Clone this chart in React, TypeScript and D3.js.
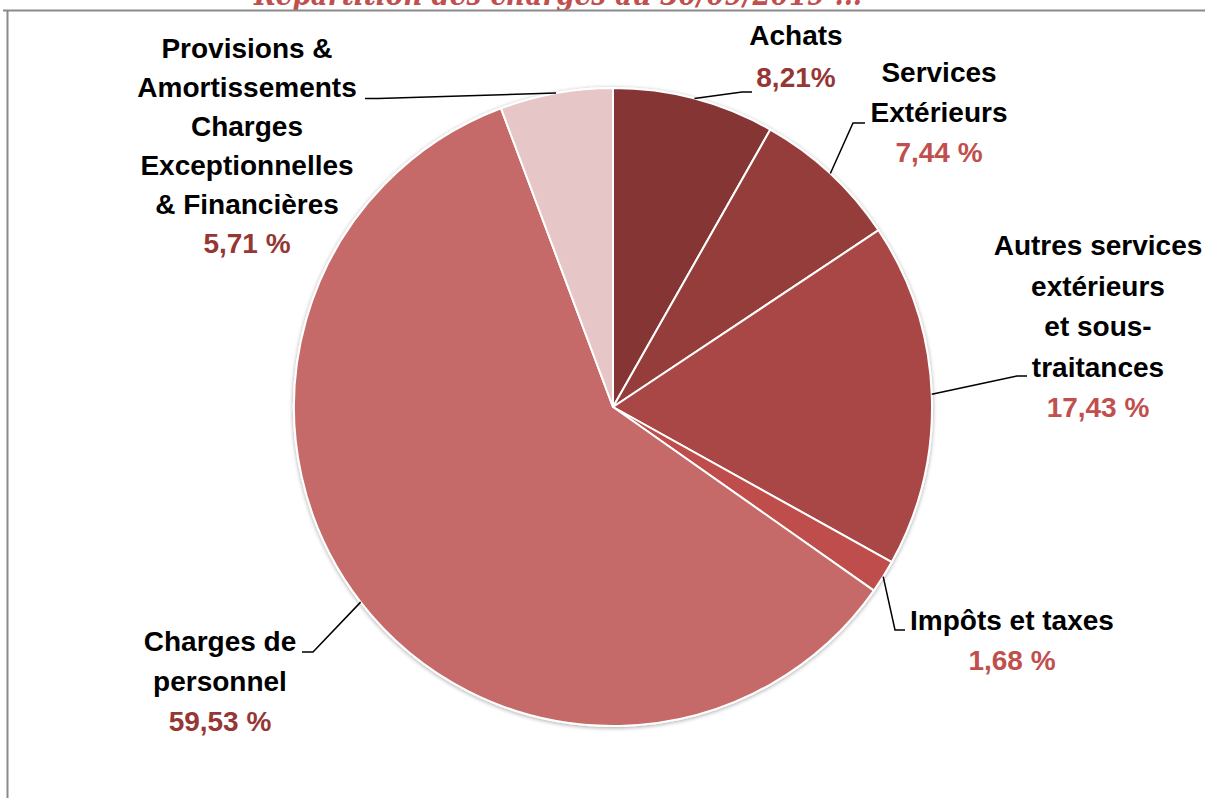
import React from "react";
import * as d3 from "d3";

const categories = [
  "Achats",
  "Services Extérieurs",
  "Autres services extérieurs et sous-traitances",
  "Impôts et taxes",
  "Charges de personnel",
  "Provisions & Amortissements Charges Exceptionnelles & Financières",
];
const values = [8.21, 7.44, 17.43, 1.68, 59.53, 5.71];
const valueLabels = ["8,21%", "7,44 %", "17,43 %", "1,68 %", "59,53 %", "5,71 %"];
const labelLines = [
  ["Achats"],
  ["Services", "Extérieurs"],
  ["Autres services", "extérieurs", "et sous-", "traitances"],
  ["Impôts et taxes"],
  ["Charges de", "personnel"],
  ["Provisions &", "Amortissements", "Charges", "Exceptionnelles", "& Financières"],
];
const title = "Répartition des charges au 30/09/2019 ...";

const sliceColors = ["#863534", "#953d3b", "#a84644", "#bf4e4b", "#c56a69", "#e6c6c7"];
const pctColors = ["#953735", "#c0504d", "#c0504d", "#c0504d", "#953735", "#953735"];

// layout: label center x, first baseline, line height, elbow point, end x
const layout = [
  { cx: 796, y0: 45, lh: 42, ex: 742, ey: 92, endX: 752 },
  { cx: 939, y0: 82, lh: 40, ex: 853, ey: 123, endX: 865 },
  { cx: 1098, y0: 255, lh: 40.5, ex: 1017, ey: 376, endX: 1027 },
  { cx: 1012, y0: 630, lh: 40, ex: 895, ey: 630, endX: 905 },
  { cx: 220, y0: 651, lh: 40, ex: 313, ey: 652, endX: 302 },
  { cx: 247, y0: 58, lh: 39, ex: 378, ey: 98.6, endX: 365 },
];

const W = 1205;
const H = 798;
const CX = 613;
const CY = 407;
const R = 319;

export default function App() {
  const pie = d3.pie<number>().sort(null).value((d) => d);
  const arcs = pie(values);
  const arcGen = d3.arc<d3.PieArcDatum<number>>().innerRadius(0).outerRadius(R);
  const font = "'Liberation Sans', Arial, sans-serif";

  return (
    <svg
      width={W}
      height={H}
      style={{ position: "absolute", left: 0, top: 0, background: "#fff" }}
    >
      <defs>
        <filter id="sh" x="-10%" y="-10%" width="120%" height="120%">
          <feGaussianBlur in="SourceAlpha" stdDeviation="2" />
          <feOffset dx="0" dy="1" result="b" />
          <feComponentTransfer>
            <feFuncA type="linear" slope="0.35" />
          </feComponentTransfer>
          <feMerge>
            <feMergeNode />
            <feMergeNode in="SourceGraphic" />
          </feMerge>
        </filter>
      </defs>
      <text
        x={254}
        y={5}
        textLength={608}
        lengthAdjust="spacingAndGlyphs"
        fill="#c0504d"
        fontFamily="'DejaVu Serif', serif"
        fontStyle="italic"
        fontWeight="bold"
        fontSize={30}
      >
        {title}
      </text>
      <line x1={3} y1={10.5} x2={W} y2={10.5} stroke="#8a8a8a" strokeWidth={2} />
      <line x1={7.5} y1={10} x2={7.5} y2={H} stroke="#8a8a8a" strokeWidth={2} />
      <g transform={`translate(${CX},${CY})`} filter="url(#sh)">
        {arcs.map((a, i) => (
          <path key={categories[i]} d={arcGen(a) || ""} fill={sliceColors[i]} stroke="#fff" strokeWidth={2} strokeLinejoin="round" />
        ))}
      </g>
      {arcs.map((a, i) => {
        const mid = (a.startAngle + a.endAngle) / 2;
        const px = CX + R * Math.sin(mid);
        const py = CY - R * Math.cos(mid);
        const L = layout[i];
        return (
          <polyline
            key={"l" + i}
            points={`${px},${py} ${L.ex},${L.ey} ${L.endX},${L.ey}`}
            fill="none"
            stroke="#000"
            strokeWidth={1.5}
          />
        );
      })}
      {labelLines.map((lines, i) => {
        const L = layout[i];
        return (
          <g key={"t" + i} fontFamily={font} fontWeight="bold" fontSize={28} textAnchor="middle">
            {lines.map((s, j) => (
              <text key={j} x={L.cx} y={L.y0 + j * L.lh} fill="#000">
                {s}
              </text>
            ))}
            <text x={L.cx} y={L.y0 + lines.length * L.lh} fill={pctColors[i]}>
              {valueLabels[i]}
            </text>
          </g>
        );
      })}
    </svg>
  );
}
